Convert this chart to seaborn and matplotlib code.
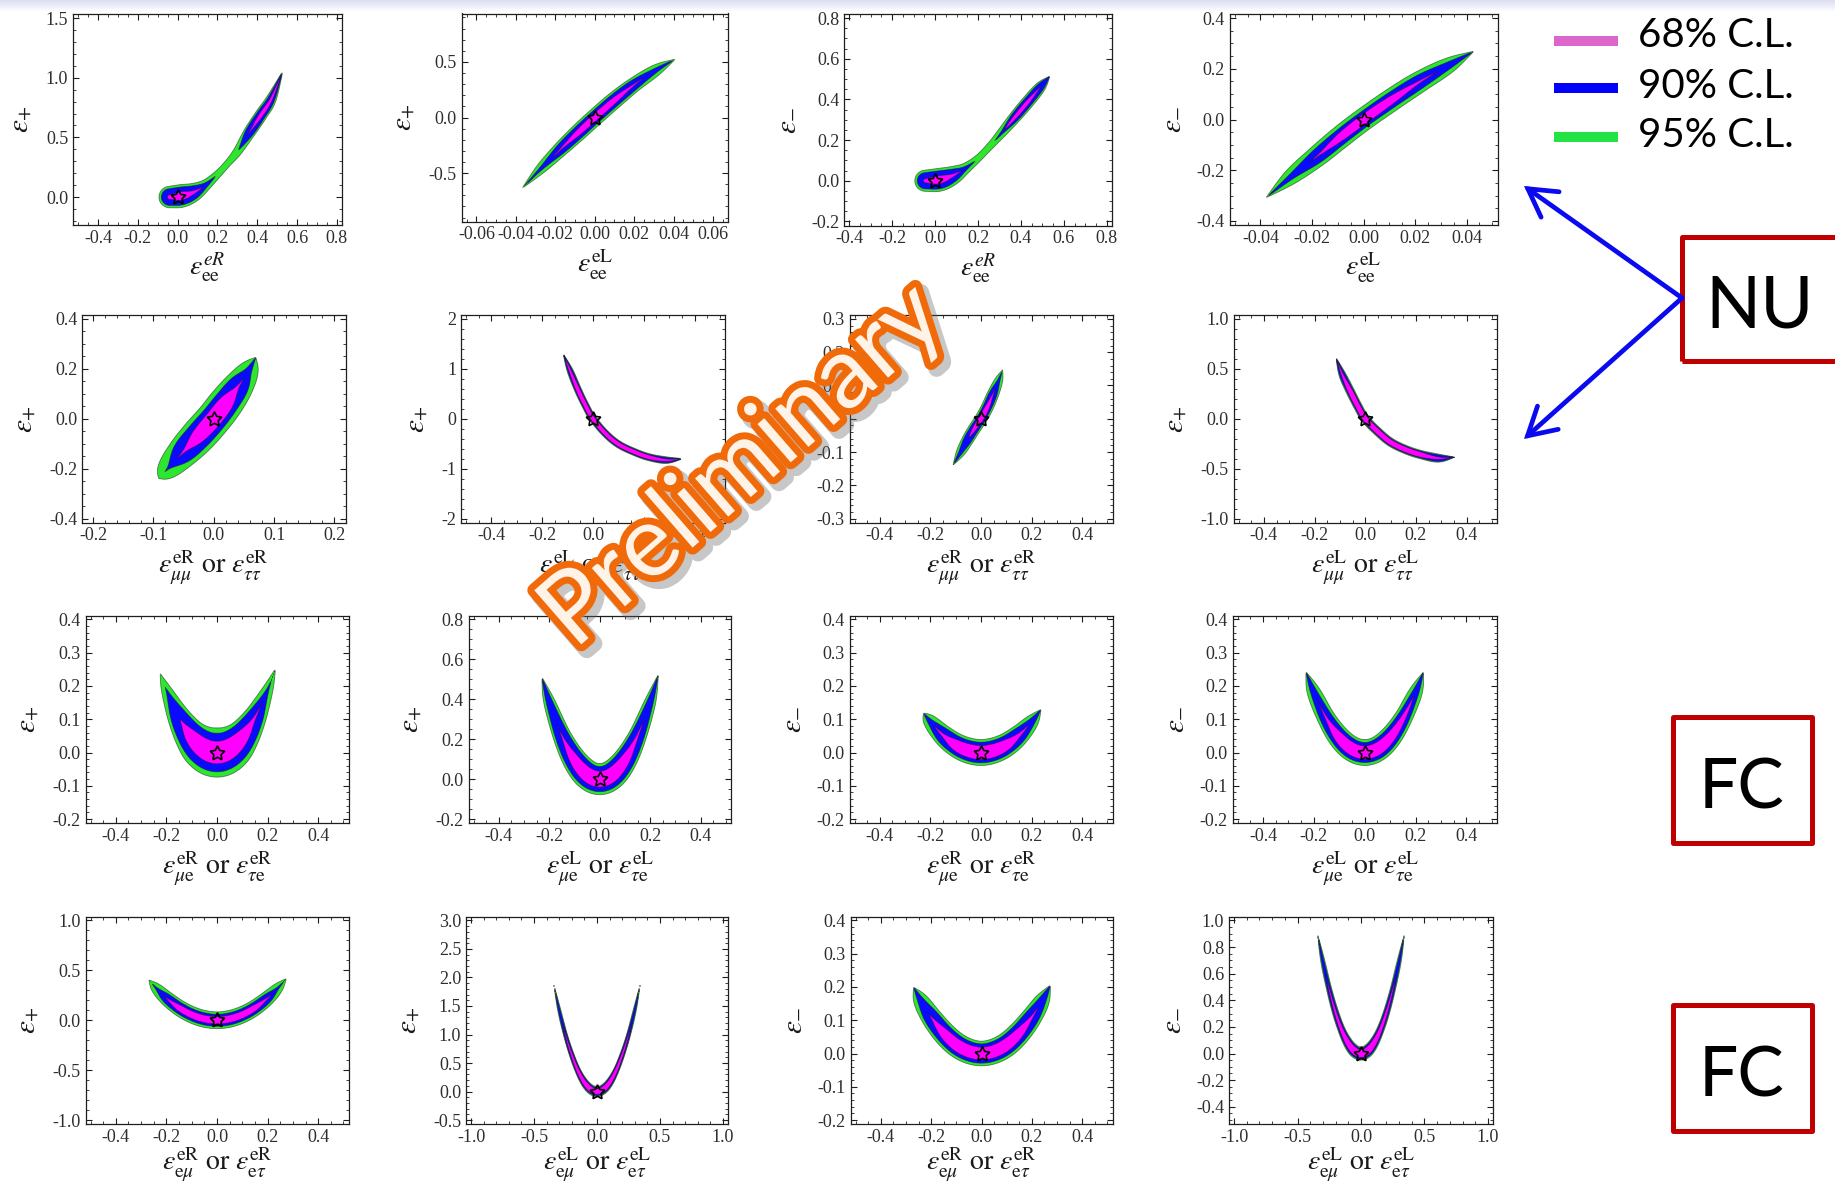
import numpy as np
import matplotlib
matplotlib.use("Agg")
import matplotlib.pyplot as plt
import matplotlib.patheffects as pe
from matplotlib.patches import Rectangle, FancyArrowPatch
from matplotlib.lines import Line2D
from matplotlib.ticker import FixedLocator, AutoMinorLocator, FormatStrFormatter
import seaborn as sns

# ---------------------------------------------------------------------------
# Allowed regions: each panel is a band around a centre line (x, y) with a
# perpendicular half-thickness (in units of the vertical axis) per C.L.
# ---------------------------------------------------------------------------

# row 1 : eps_ee
c11_x = [-0.04, 0.02, 0.08, 0.14, 0.2, 0.25, 0.30, 0.36, 0.42, 0.47, 0.53]
c11_y = [0.0, 0.01, 0.04, 0.10, 0.19, 0.28, 0.38, 0.54, 0.69, 0.82, 1.06]
c11_w95 = [0.09, 0.095, 0.075, 0.045, 0.03, 0.027, 0.035, 0.048, 0.05, 0.042, 0.0]
c11_w90 = [0.07, 0.075, 0.055, 0.02, 0.0, 0.0, 0.0, 0.035, 0.038, 0.03, 0.0]
c11_w68 = [0.02, 0.035, 0.015, 0.0, 0.0, 0.0, 0.0, 0.004, 0.018, 0.012, 0.0]

c12_x = [-0.037, -0.027, -0.017, -0.008, 0.0, 0.01, 0.02, 0.031, 0.041]
c12_y = [-0.64, -0.455, -0.28, -0.13, 0.0, 0.155, 0.295, 0.425, 0.527]
c12_w95 = [0.0, 0.045, 0.065, 0.074, 0.075, 0.074, 0.065, 0.05, 0.0]
c12_w90 = [0.0, 0.015, 0.045, 0.054, 0.055, 0.054, 0.045, 0.02, 0.0]
c12_w68 = [0.0, 0.0, 0.008, 0.027, 0.031, 0.027, 0.008, 0.0, 0.0]

c13_x = [-0.045, 0.02, 0.08, 0.14, 0.2, 0.26, 0.31, 0.37, 0.43, 0.49, 0.535]
c13_y = [0.0, 0.005, 0.025, 0.06, 0.11, 0.175, 0.235, 0.31, 0.385, 0.46, 0.515]
c13_w95 = [0.052, 0.056, 0.045, 0.026, 0.017, 0.017, 0.022, 0.028, 0.03, 0.025, 0.0]
c13_w90 = [0.04, 0.044, 0.032, 0.01, 0.0, 0.0, 0.006, 0.02, 0.022, 0.018, 0.0]
c13_w68 = [0.01, 0.02, 0.008, 0.0, 0.0, 0.0, 0.0, 0.009, 0.01, 0.002, 0.0]

c14_x = [-0.038, -0.028, -0.018, -0.009, 0.0, 0.011, 0.022, 0.033, 0.043]
c14_y = [-0.31, -0.225, -0.145, -0.07, 0.0, 0.078, 0.15, 0.213, 0.27]
c14_w95 = [0.0, 0.03, 0.041, 0.044, 0.044, 0.044, 0.041, 0.03, 0.0]
c14_w90 = [0.0, 0.011, 0.027, 0.03, 0.03, 0.03, 0.027, 0.014, 0.0]
c14_w68 = [0.0, 0.0, 0.003, 0.016, 0.019, 0.016, 0.005, 0.0, 0.0]

# row 2 : eps_mumu / eps_tautau
c21_x = [-0.0915, -0.075, -0.05, -0.025, 0.0, 0.02, 0.04, 0.057, 0.07]
c21_y = [-0.24, -0.197, -0.132, -0.068, 0.0, 0.062, 0.128, 0.19, 0.247]
c21_w95 = [0.0, 0.042, 0.062, 0.07, 0.07, 0.069, 0.06, 0.04, 0.0]
c21_w90 = [0.0, 0.005, 0.043, 0.052, 0.052, 0.05, 0.042, 0.014, 0.0]
c21_w68 = [0.0, 0.0, 0.005, 0.028, 0.033, 0.03, 0.006, 0.0, 0.0]

c22_x = [-0.118, -0.09, -0.06, -0.03, 0.0, 0.05, 0.1, 0.16, 0.22, 0.29, 0.355]
c22_y = [1.31, 0.96, 0.59, 0.27, 0.0, -0.30, -0.51, -0.66, -0.77, -0.83, -0.80]
c22_w95 = [0.0, 0.06, 0.07, 0.07, 0.07, 0.07, 0.07, 0.07, 0.07, 0.066, 0.0]
c22_w90 = [0.0, 0.048, 0.058, 0.058, 0.058, 0.058, 0.058, 0.058, 0.058, 0.054, 0.0]
c22_w68 = [0.0, 0.025, 0.044, 0.045, 0.046, 0.046, 0.046, 0.046, 0.044, 0.025, 0.0]

c23_x = [-0.111, -0.08, -0.054, -0.027, 0.0, 0.025, 0.048, 0.07, 0.086]
c23_y = [-0.14, -0.10, -0.065, -0.031, 0.0, 0.035, 0.075, 0.115, 0.148]
c23_w95 = [0.0, 0.013, 0.017, 0.018, 0.018, 0.018, 0.017, 0.012, 0.0]
c23_w90 = [0.0, 0.006, 0.012, 0.013, 0.013, 0.013, 0.012, 0.004, 0.0]
c23_w68 = [0.0, 0.0, 0.0, 0.006, 0.008, 0.007, 0.002, 0.0, 0.0]

c24_x = [-0.116, -0.09, -0.06, -0.03, 0.0, 0.05, 0.1, 0.16, 0.22, 0.29, 0.355]
c24_y = [0.615, 0.44, 0.28, 0.13, 0.0, -0.13, -0.235, -0.31, -0.36, -0.395, -0.385]
c24_w95 = [0.0, 0.035, 0.042, 0.042, 0.042, 0.042, 0.042, 0.042, 0.042, 0.04, 0.0]
c24_w90 = [0.0, 0.028, 0.034, 0.034, 0.034, 0.034, 0.034, 0.034, 0.034, 0.033, 0.0]
c24_w68 = [0.0, 0.012, 0.026, 0.027, 0.028, 0.028, 0.028, 0.028, 0.026, 0.012, 0.0]

# row 3 : eps_mue / eps_taue
c31_x = [-0.225, -0.2, -0.15, -0.1, -0.05, 0.0, 0.05, 0.1, 0.15, 0.2, 0.232]
c31_y = [0.238, 0.188, 0.106, 0.047, 0.012, 0.0, 0.012, 0.047, 0.106, 0.188, 0.253]
c31_w95 = [0.0, 0.015, 0.034, 0.05, 0.066, 0.074, 0.066, 0.05, 0.034, 0.016, 0.0]
c31_w90 = [0.0, 0.002, 0.025, 0.04, 0.052, 0.058, 0.052, 0.04, 0.025, 0.004, 0.0]
c31_w68 = [0.0, 0.0, 0.0, 0.02, 0.03, 0.034, 0.03, 0.02, 0.004, 0.0, 0.0]

c32_x = [-0.23, -0.2, -0.15, -0.1, -0.05, 0.0, 0.05, 0.1, 0.15, 0.2, 0.233]
c32_y = [0.513, 0.388, 0.218, 0.097, 0.024, 0.0, 0.024, 0.097, 0.218, 0.388, 0.527]
c32_w95 = [0.0, 0.028, 0.045, 0.06, 0.072, 0.078, 0.072, 0.06, 0.045, 0.028, 0.0]
c32_w90 = [0.0, 0.016, 0.034, 0.048, 0.058, 0.063, 0.058, 0.048, 0.034, 0.016, 0.0]
c32_w68 = [0.0, 0.0, 0.004, 0.025, 0.036, 0.04, 0.036, 0.025, 0.006, 0.0, 0.0]

c33_x = [-0.228, -0.2, -0.15, -0.1, -0.05, 0.0, 0.05, 0.1, 0.15, 0.2, 0.238]
c33_y = [0.119, 0.092, 0.052, 0.023, 0.006, 0.0, 0.006, 0.023, 0.052, 0.092, 0.13]
c33_w95 = [0.0, 0.02, 0.03, 0.035, 0.038, 0.039, 0.038, 0.035, 0.03, 0.02, 0.0]
c33_w90 = [0.0, 0.008, 0.022, 0.027, 0.03, 0.031, 0.03, 0.027, 0.022, 0.01, 0.0]
c33_w68 = [0.0, 0.0, 0.005, 0.016, 0.02, 0.021, 0.02, 0.016, 0.006, 0.0, 0.0]

c34_x = [-0.232, -0.2, -0.15, -0.1, -0.05, 0.0, 0.05, 0.1, 0.15, 0.2, 0.232]
c34_y = [0.244, 0.181, 0.102, 0.045, 0.011, 0.0, 0.011, 0.045, 0.102, 0.181, 0.244]
c34_w95 = [0.0, 0.02, 0.027, 0.033, 0.037, 0.039, 0.037, 0.033, 0.027, 0.02, 0.0]
c34_w90 = [0.0, 0.01, 0.019, 0.025, 0.029, 0.03, 0.029, 0.025, 0.019, 0.01, 0.0]
c34_w68 = [0.0, 0.0, 0.004, 0.015, 0.019, 0.02, 0.019, 0.015, 0.008, 0.0, 0.0]

# row 4 : eps_emu / eps_etau
c41_x = [-0.27, -0.24, -0.2, -0.15, -0.1, -0.05, 0.0, 0.05, 0.1, 0.15, 0.2, 0.24, 0.275]
c41_y = [0.405, 0.32, 0.222, 0.125, 0.056, 0.014, 0.0, 0.014, 0.056, 0.125, 0.222, 0.32, 0.42]
c41_w95 = [0.0, 0.05, 0.07, 0.078, 0.082, 0.084, 0.084, 0.084, 0.082, 0.078, 0.07, 0.05, 0.0]
c41_w90 = [0.0, 0.01, 0.045, 0.055, 0.058, 0.06, 0.06, 0.06, 0.058, 0.055, 0.045, 0.012, 0.0]
c41_w68 = [0.0, 0.0, 0.005, 0.03, 0.035, 0.037, 0.037, 0.037, 0.035, 0.03, 0.008, 0.0, 0.0]

c42_x = [-0.348, -0.3, -0.25, -0.2, -0.15, -0.1, -0.05, 0.0, 0.05, 0.1, 0.15, 0.2, 0.25, 0.3, 0.348]
c42_y = [1.93, 1.43, 0.99, 0.64, 0.36, 0.16, 0.04, 0.0, 0.04, 0.16, 0.36, 0.64, 0.99, 1.43, 1.93]
c42_w95 = [0.0, 0.028, 0.035, 0.042, 0.05, 0.065, 0.08, 0.09, 0.08, 0.065, 0.05, 0.042, 0.035, 0.028, 0.0]
c42_w90 = [0.0, 0.018, 0.028, 0.035, 0.042, 0.055, 0.065, 0.072, 0.065, 0.055, 0.042, 0.035, 0.028, 0.018, 0.0]
c42_w68 = [0.0, 0.0, 0.01, 0.02, 0.03, 0.04, 0.05, 0.052, 0.05, 0.04, 0.03, 0.02, 0.01, 0.0, 0.0]

c43_x = [-0.27, -0.24, -0.2, -0.15, -0.1, -0.05, 0.0, 0.05, 0.1, 0.15, 0.2, 0.24, 0.274]
c43_y = [0.2, 0.158, 0.11, 0.062, 0.027, 0.007, 0.0, 0.007, 0.027, 0.062, 0.11, 0.158, 0.206]
c43_w95 = [0.0, 0.022, 0.03, 0.034, 0.036, 0.037, 0.037, 0.037, 0.036, 0.034, 0.03, 0.022, 0.0]
c43_w90 = [0.0, 0.01, 0.022, 0.026, 0.028, 0.029, 0.029, 0.029, 0.028, 0.026, 0.022, 0.012, 0.0]
c43_w68 = [0.0, 0.0, 0.002, 0.014, 0.018, 0.019, 0.019, 0.019, 0.018, 0.014, 0.004, 0.0, 0.0]

c44_x = [-0.346, -0.3, -0.25, -0.2, -0.15, -0.1, -0.05, 0.0, 0.05, 0.1, 0.15, 0.2, 0.25, 0.3, 0.346]
c44_y = [0.917, 0.69, 0.48, 0.306, 0.172, 0.077, 0.019, 0.0, 0.019, 0.077, 0.172, 0.306, 0.48, 0.69, 0.917]
c44_w95 = [0.0, 0.016, 0.02, 0.024, 0.028, 0.036, 0.045, 0.05, 0.045, 0.036, 0.028, 0.024, 0.02, 0.016, 0.0]
c44_w90 = [0.0, 0.01, 0.015, 0.019, 0.023, 0.03, 0.038, 0.041, 0.038, 0.03, 0.023, 0.019, 0.015, 0.01, 0.0]
c44_w68 = [0.0, 0.0, 0.005, 0.01, 0.015, 0.022, 0.028, 0.03, 0.028, 0.022, 0.015, 0.01, 0.005, 0.0, 0.0]

# best-fit point (standard model) in every panel
best_fit = (0.0, 0.0)

# plot ranges (before 2 % padding) and tick values
x_ranges = [(-0.5, 0.8), (-0.065, 0.065), (-0.4, 0.8), (-0.05, 0.05),
            (-0.21, 0.21), (-0.5, 0.5), (-0.5, 0.5), (-0.5, 0.5),
            (-0.5, 0.5), (-0.5, 0.5), (-0.5, 0.5), (-0.5, 0.5),
            (-0.5, 0.5), (-1.0, 1.0), (-0.5, 0.5), (-1.0, 1.0)]
y_ranges = [(-0.2, 1.5), (-0.9, 0.9), (-0.2, 0.8), (-0.4, 0.4),
            (-0.4, 0.4), (-2.0, 2.0), (-0.3, 0.3), (-1.0, 1.0),
            (-0.2, 0.4), (-0.2, 0.8), (-0.2, 0.4), (-0.2, 0.4),
            (-1.0, 1.0), (-0.5, 3.0), (-0.2, 0.4), (-0.5, 1.0)]

x_ticks = [[-0.4, -0.2, 0.0, 0.2, 0.4, 0.6, 0.8],
           [-0.06, -0.04, -0.02, 0.0, 0.02, 0.04, 0.06],
           [-0.4, -0.2, 0.0, 0.2, 0.4, 0.6, 0.8],
           [-0.04, -0.02, 0.0, 0.02, 0.04],
           [-0.2, -0.1, 0.0, 0.1, 0.2],
           [-0.4, -0.2, 0.0, 0.2, 0.4],
           [-0.4, -0.2, 0.0, 0.2, 0.4],
           [-0.4, -0.2, 0.0, 0.2, 0.4],
           [-0.4, -0.2, 0.0, 0.2, 0.4],
           [-0.4, -0.2, 0.0, 0.2, 0.4],
           [-0.4, -0.2, 0.0, 0.2, 0.4],
           [-0.4, -0.2, 0.0, 0.2, 0.4],
           [-0.4, -0.2, 0.0, 0.2, 0.4],
           [-1.0, -0.5, 0.0, 0.5, 1.0],
           [-0.4, -0.2, 0.0, 0.2, 0.4],
           [-1.0, -0.5, 0.0, 0.5, 1.0]]
y_ticks = [[0.0, 0.5, 1.0, 1.5],
           [-0.5, 0.0, 0.5],
           [-0.2, 0.0, 0.2, 0.4, 0.6, 0.8],
           [-0.4, -0.2, 0.0, 0.2, 0.4],
           [-0.4, -0.2, 0.0, 0.2, 0.4],
           [-2, -1, 0, 1, 2],
           [-0.3, -0.2, -0.1, 0.0, 0.1, 0.2, 0.3],
           [-1.0, -0.5, 0.0, 0.5, 1.0],
           [-0.2, -0.1, 0.0, 0.1, 0.2, 0.3, 0.4],
           [-0.2, 0.0, 0.2, 0.4, 0.6, 0.8],
           [-0.2, -0.1, 0.0, 0.1, 0.2, 0.3, 0.4],
           [-0.2, -0.1, 0.0, 0.1, 0.2, 0.3, 0.4],
           [-1.0, -0.5, 0.0, 0.5, 1.0],
           [-0.5, 0.0, 0.5, 1.0, 1.5, 2.0, 2.5, 3.0],
           [-0.2, -0.1, 0.0, 0.1, 0.2, 0.3, 0.4],
           [-0.4, -0.2, 0.0, 0.2, 0.4, 0.6, 0.8, 1.0]]
x_decimals = [1, 2, 1, 2] + [1] * 12
y_decimals = [1, 1, 1, 1, 1, 0, 1, 1, 1, 1, 1, 1, 1, 1, 1, 1]

EPS_PLUS = r"$\varepsilon_{+}$"
EPS_MINUS = r"$\varepsilon_{-}$"
y_labels = [EPS_PLUS, EPS_PLUS, EPS_MINUS, EPS_MINUS,
            EPS_PLUS, EPS_PLUS, EPS_MINUS, EPS_PLUS,
            EPS_PLUS, EPS_PLUS, EPS_MINUS, EPS_MINUS,
            EPS_PLUS, EPS_PLUS, EPS_MINUS, EPS_MINUS]


def pair_label(chir, a, b):
    return (r"$\varepsilon^{\mathrm{%s}}_{%s}\ \mathrm{or}\ \varepsilon^{\mathrm{%s}}_{%s}$"
            % (chir, a, chir, b))


x_labels = [r"$\varepsilon^{eR}_{\mathrm{ee}}$", r"$\varepsilon^{\mathrm{eL}}_{\mathrm{ee}}$",
            r"$\varepsilon^{eR}_{\mathrm{ee}}$", r"$\varepsilon^{\mathrm{eL}}_{\mathrm{ee}}$"]
for a, b in [(r"\mu\mu", r"\tau\tau"), (r"\mu\mathrm{e}", r"\tau\mathrm{e}"),
             (r"\mathrm{e}\mu", r"\mathrm{e}\tau")]:
    x_labels += [pair_label("eR", a, b), pair_label("eL", a, b),
                 pair_label("eR", a, b), pair_label("eL", a, b)]

legend_labels = ["68% C.L.", "90% C.L.", "95% C.L."]

# ---------------------------------------------------------------------------
centre_x = [c11_x, c12_x, c13_x, c14_x, c21_x, c22_x, c23_x, c24_x,
            c31_x, c32_x, c33_x, c34_x, c41_x, c42_x, c43_x, c44_x]
centre_y = [c11_y, c12_y, c13_y, c14_y, c21_y, c22_y, c23_y, c24_y,
            c31_y, c32_y, c33_y, c34_y, c41_y, c42_y, c43_y, c44_y]
half_95 = [c11_w95, c12_w95, c13_w95, c14_w95, c21_w95, c22_w95, c23_w95, c24_w95,
           c31_w95, c32_w95, c33_w95, c34_w95, c41_w95, c42_w95, c43_w95, c44_w95]
half_90 = [c11_w90, c12_w90, c13_w90, c14_w90, c21_w90, c22_w90, c23_w90, c24_w90,
           c31_w90, c32_w90, c33_w90, c34_w90, c41_w90, c42_w90, c43_w90, c44_w90]
half_68 = [c11_w68, c12_w68, c13_w68, c14_w68, c21_w68, c22_w68, c23_w68, c24_w68,
           c31_w68, c32_w68, c33_w68, c34_w68, c41_w68, c42_w68, c43_w68, c44_w68]

FIG_W, FIG_H = 1835, 1186
# panel frames in pixels: left, right, top, bottom
AXES_BOX = [(73, 342, 14, 225), (461.5, 728, 13.5, 221.5), (844, 1112, 14, 225.5), (1229.5, 1497.5, 14, 225),
            (82, 345.5, 315, 522.5), (461, 725, 315, 522.5), (849.5, 1112.5, 315, 522.5), (1233.5, 1497, 315, 522.5),
            (85.5, 348.5, 615.5, 823), (468.5, 731, 615.5, 823), (849.5, 1112.5, 615.5, 823), (1232.5, 1497, 615.5, 823),
            (85.5, 348.5, 916.5, 1124), (466, 728, 916.5, 1124), (850.5, 1112.5, 916.5, 1124), (1229, 1493, 916.5, 1124)]

COL_95 = "#2ee62e"
COL_90 = "#0a0aff"
COL_68 = "#ff00ff"
LEG_COLS = ["#dd66cc", "#0000ff", "#22e244"]


def catmull_rom(points, per_seg=40):
    P = np.asarray(points, float)
    ext = np.vstack([2 * P[0] - P[1], P, 2 * P[-1] - P[-2]])
    t = np.linspace(0, 1, per_seg, endpoint=False)[:, None]
    parts = []
    for i in range(1, len(ext) - 2):
        p0, p1, p2, p3 = ext[i - 1], ext[i], ext[i + 1], ext[i + 2]
        parts.append(0.5 * (2 * p1 + (p2 - p0) * t + (2 * p0 - 5 * p1 + 4 * p2 - p3) * t ** 2
                            + (3 * p1 - p0 - 3 * p2 + p3) * t ** 3))
    parts.append(P[-1:])
    return np.vstack(parts)


def draw_regions(ax, cx, cy, widths, colors, wpx, hpx):
    x0, x1 = ax.get_xlim()
    y0, y1 = ax.get_ylim()
    sx, sy = wpx / (x1 - x0), hpx / (y1 - y0)
    u = (np.asarray(cx) - x0) * sx
    v = (np.asarray(cy) - y0) * sy
    cols = [u, v] + [np.asarray(w) * sy for w in widths]
    dense = catmull_rom(np.column_stack(cols))
    gu = np.linspace(0, wpx, int(wpx) + 1)
    gv = np.linspace(0, hpx, int(hpx) + 1)
    U, V = np.meshgrid(gu, gv)
    fields = [np.full(U.shape, np.inf) for _ in widths]
    for row in dense:
        d = np.hypot(U - row[0], V - row[1])
        for k, f in enumerate(fields):
            np.minimum(f, d - row[2 + k], out=f)
    X = x0 + U / sx
    Y = y0 + V / sy
    for f, c in zip(fields, colors):
        if f.min() >= 0:
            continue
        ax.contourf(X, Y, f, levels=[-1e9, 0], colors=[c], antialiased=True)
        ax.contour(X, Y, f, levels=[0], colors=["#1a1a1a"], linewidths=0.6, alpha=0.55)


def minor_div(step):
    lead = round(step / 10 ** np.floor(np.log10(step)))
    return 4 if lead == 2 else 5


sns.set_theme(style="ticks")
plt.rcParams.update({
    "font.family": ["Liberation Serif", "DejaVu Serif"],
    "mathtext.fontset": "stix",
    "axes.linewidth": 0.9,
    "axes.edgecolor": "#1e1e1e",
    "xtick.color": "#1e1e1e",
    "ytick.color": "#1e1e1e",
    "xtick.labelcolor": "#2e2e2e",
    "ytick.labelcolor": "#2e2e2e",
    "axes.unicode_minus": True,
})

fig = plt.figure(figsize=(FIG_W / 100, FIG_H / 100), dpi=100)
fig.patch.set_facecolor("white")

# light slide header band
band = np.ones((12, FIG_W, 3))
fade = np.linspace(0.0, 1.0, 12)[:, None]
band[..., 0] = 0.87 + 0.13 * fade
band[..., 1] = 0.87 + 0.13 * fade
band[..., 2] = 0.96 + 0.04 * fade
fig.figimage(band, xo=0, yo=FIG_H - 12, zorder=0)

for i in range(16):
    l, r, t, b = AXES_BOX[i]
    ax = fig.add_axes([l / FIG_W, 1 - b / FIG_H, (r - l) / FIG_W, (b - t) / FIG_H])
    ax.set_facecolor("white")
    xlo, xhi = x_ranges[i]
    ylo, yhi = y_ranges[i]
    px, py = 0.02 * (xhi - xlo), 0.02 * (yhi - ylo)
    ax.set_xlim(xlo - px, xhi + px)
    ax.set_ylim(ylo - py, yhi + py)

    draw_regions(ax, centre_x[i], centre_y[i], [half_95[i], half_90[i], half_68[i]],
                 [COL_95, COL_90, COL_68], r - l, b - t)
    ax.plot(*best_fit, marker=(5, 1, 0), ms=11, mfc="none", mec="black", mew=1.2, zorder=5)

    ax.xaxis.set_major_locator(FixedLocator(x_ticks[i]))
    ax.yaxis.set_major_locator(FixedLocator(y_ticks[i]))
    ax.xaxis.set_major_formatter(FormatStrFormatter("%%.%df" % x_decimals[i]))
    ax.yaxis.set_major_formatter(FormatStrFormatter("%%.%df" % y_decimals[i]))
    ax.xaxis.set_minor_locator(AutoMinorLocator(minor_div(x_ticks[i][1] - x_ticks[i][0])))
    ax.yaxis.set_minor_locator(AutoMinorLocator(minor_div(y_ticks[i][1] - y_ticks[i][0])))
    ax.tick_params(which="both", direction="in", top=True, right=True, labelsize=13, pad=3.5)
    ax.tick_params(which="major", length=4.5, width=0.8)
    ax.tick_params(which="minor", length=2.2, width=0.6)
    for s in ax.spines.values():
        s.set_visible(True)
        s.set_linewidth(0.9)
    ax.set_xlabel(x_labels[i], fontsize=20, labelpad=(3.0 if i < 12 else -0.5), color="#1a1a1a")
    ax.set_ylabel(y_labels[i], fontsize=21, labelpad=9, color="#1a1a1a")


def fx(p):
    return p / FIG_W


def fy(p):
    return 1 - p / FIG_H


SANS = ["Lato", "Open Sans", "DejaVu Sans"]

# legend
leg_line_y = [40.7, 88.3, 136.7]
leg_base_y = [46.7, 98.3, 146.7]
for lab, col, ly, by in zip(legend_labels, LEG_COLS, leg_line_y, leg_base_y):
    fig.add_artist(Line2D([fx(1554), fx(1618)], [fy(ly), fy(ly)], color=col, lw=7.2,
                          solid_capstyle="butt", transform=fig.transFigure))
    fig.text(fx(1638), fy(by), lab, fontsize=29, family=SANS, color="black",
             ha="left", va="baseline")

# NU box with arrows
fig.add_artist(Rectangle((fx(1682), fy(361)), 0.2, (361 - 237) / FIG_H, fill=False,
                         ec="#c00000", lw=3.6, transform=fig.transFigure, joinstyle="round"))
fig.text(fx(1705), fy(328), "NU", fontsize=52, family=SANS, color="black",
         ha="left", va="baseline")
for tip in [(1524, 186), (1524, 439)]:
    fig.add_artist(FancyArrowPatch((fx(1682), fy(298)), (fx(tip[0]), fy(tip[1])),
                                   transform=fig.transFigure, color="#0a0af0", lw=3.4,
                                   arrowstyle="->,head_length=0.7,head_width=0.4",
                                   mutation_scale=28, shrinkA=0, shrinkB=0,
                                   joinstyle="miter", capstyle="round"))

# FC boxes
for top, base in [(716.7, 808.3), (1005, 1096.7)]:
    fig.add_artist(Rectangle((fx(1673), fy(top + 126)), 139 / FIG_W, 126 / FIG_H, fill=False,
                             ec="#c00000", lw=3.6, transform=fig.transFigure, joinstyle="round"))
    fig.text(fx(1699), fy(base), "FC", fontsize=50, family=SANS, color="black",
             ha="left", va="baseline")

# watermark
fig.text(fx(743), fy(466), "Preliminary", fontsize=72, family=SANS, color="#fff2e6",
         rotation=41, rotation_mode="anchor", ha="center", va="center", zorder=20,
         path_effects=[pe.Stroke(linewidth=12, foreground="#606060", alpha=0.35, offset=(4, -4)),
                       pe.Stroke(linewidth=10, foreground="#f06a0a"),
                       pe.Normal()])

fig.savefig("out.png", dpi=100, facecolor="white")
